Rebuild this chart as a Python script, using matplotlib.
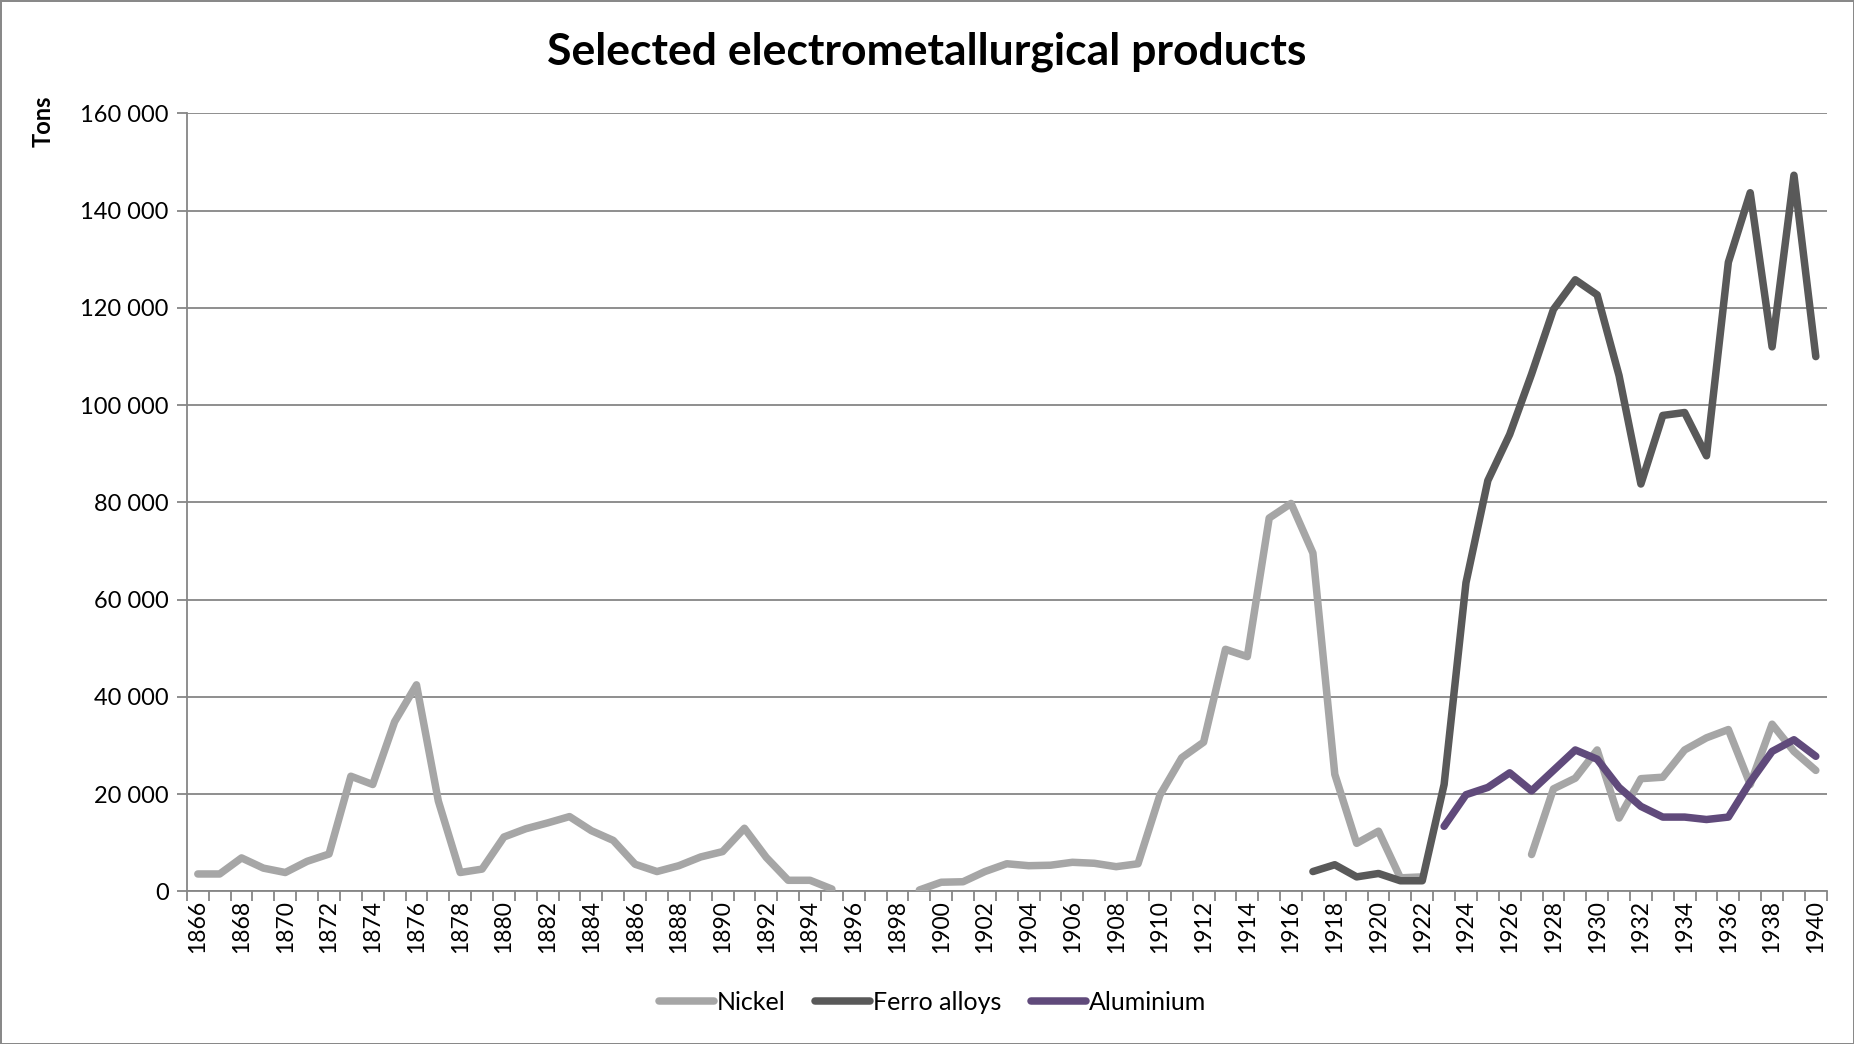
import matplotlib.pyplot as plt
import numpy as np
from matplotlib.ticker import FuncFormatter, FixedLocator

nan = np.nan

# Years on the category axis
years = list(range(1866, 1941))

# Nickel, tons (gaps where no data)
nickel = [
    3600, 3600, 6900, 4800, 3900, 6200, 7700, 23700, 22000, 34900,   # 1866-1875
    42500, 18600, 3900, 4600, 11200, 12900, 14100, 15400, 12500, 10500,  # 1876-1885
    5600, 4100, 5300, 7100, 8200, 13000, 7000, 2300, 2300, 500,   # 1886-1895
    nan, nan, nan, 300, 1900, 2000, 4100, 5700, 5300, 5400,   # 1896-1905
    6000, 5800, 5100, 5700, 19800, 27500, 30700, 49800, 48300, 76800,  # 1906-1915
    79800, 69600, 24100, 9900, 12400, 2800, 3000, nan, nan, nan,  # 1916-1925
    nan, 7600, 21100, 23300, 29100, 15100, 23200, 23500, 29100, 31600,  # 1926-1935
    33300, 22000, 34400, 28800, 24900,  # 1936-1940
]

# Ferro alloys, tons (from 1917)
ferro = [nan] * 51 + [
    4100, 5500, 3000, 3700, 2200, 2200, 22000, 63500, 84500,  # 1917-1925
    94000, 106400, 119700, 125800, 122700, 106100, 83800, 97900, 98500, 89600,  # 1926-1935
    129400, 143700, 112000, 147300, 110000,  # 1936-1940
]

# Aluminium, tons (from 1923)
aluminium = [nan] * 57 + [
    13400, 19900, 21400,  # 1923-1925
    24400, 20700, 24900, 29100, 27200, 21400, 17500, 15300, 15300, 14800,  # 1926-1935
    15300, 22500, 28800, 31200, 27800,  # 1936-1940
]

fig = plt.figure(figsize=(18.54, 10.44), dpi=100, edgecolor="#898989", linewidth=2)
plt.rcParams["font.family"] = ["Lato", "DejaVu Sans"]
ax = fig.add_axes([0.1008, 0.1461, 0.8845, 0.7452])

x = np.arange(len(years))
series = [
    ("Nickel", nickel, "#A6A6A6"),
    ("Ferro alloys", ferro, "#595959"),
    ("Aluminium", aluminium, "#604A7B"),
]
for name, vals, col in series:
    ax.plot(x, vals, color=col, lw=5.4, label=name,
            solid_capstyle="round", solid_joinstyle="round", zorder=3)

ax.set_xlim(-0.5, len(years) - 0.5)
ax.set_ylim(0, 160000)
ax.set_yticks(np.arange(0, 160001, 20000))
ax.yaxis.set_major_formatter(FuncFormatter(lambda v, p: f"{int(v):,}".replace(",", " ")))
ax.grid(axis="y", color="#868686", lw=1.3, zorder=1)

# category boundaries as tick marks, labels every second year at centers
ax.xaxis.set_major_locator(FixedLocator(np.arange(-0.5, len(years), 1.0)))
ax.xaxis.set_major_formatter(FuncFormatter(lambda v, p: ""))
ax.xaxis.set_minor_locator(FixedLocator(x[::2]))
ax.xaxis.set_minor_formatter(FuncFormatter(lambda v, p: str(years[int(round(v))])))
ax.tick_params(axis="x", which="major", length=7, width=1.3, color="#868686")
ax.tick_params(axis="x", which="minor", length=0, labelsize=16.5, labelrotation=90, pad=6)
ax.tick_params(axis="y", length=7, width=1.3, color="#868686", labelsize=17, pad=6)

for s in ["top", "right"]:
    ax.spines[s].set_visible(False)
for s in ["left", "bottom"]:
    ax.spines[s].set_color("#868686")
    ax.spines[s].set_linewidth(1.3)

fig.text(0.5, 0.95, "Selected electrometallurgical products", ha="center", va="center",
         fontsize=32, fontweight="bold")
fig.text(0.023, 0.884, "Tons", rotation=90, ha="center", va="center",
         fontsize=17, fontweight="bold")

leg = fig.legend(loc="center", bbox_to_anchor=(0.503, 0.04), ncol=3, frameon=False,
                 fontsize=18, handlelength=2.2, handletextpad=0.1, columnspacing=1.2)

fig.savefig("out.png", dpi=100)
